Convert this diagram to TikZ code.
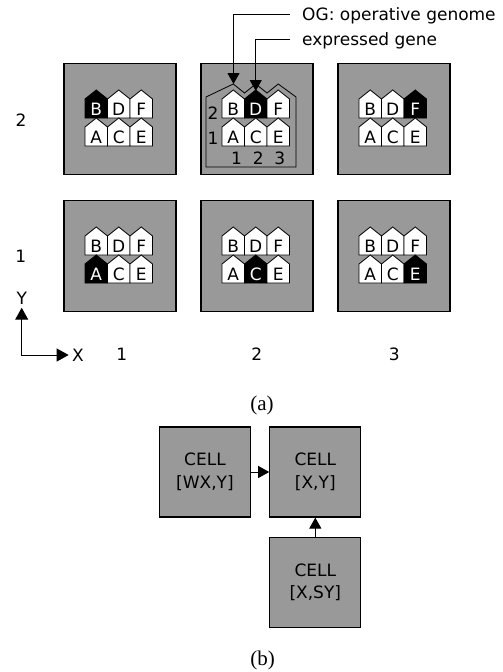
\documentclass[tikz,border=0pt]{standalone}
\usepackage{fontspec}
\setmainfont{DejaVu Sans}
\newfontfamily\capfont{Liberation Serif}
\usetikzlibrary{arrows.meta}
\definecolor{cellgray}{RGB}{153,153,153}

\tikzset{
  cellbox/.style={draw, fill=cellgray, line width=1.2pt, minimum width=112pt, minimum height=111pt, inner sep=0pt},
  callbox/.style={draw, fill=cellgray, line width=1.2pt, minimum width=91pt, minimum height=90pt, align=center},
  gene/.style={draw, fill=white, text=black},
  expr/.style={draw, fill=black, text=white},
  arr/.style={-{Triangle[length=11pt,width=12pt]}, line width=1pt},
  lbl/.style={inner sep=0pt},
  note/.style={anchor=west, inner sep=0pt, text height=12pt, text depth=0pt},
  caption/.style={font=\capfont\fontsize{21}{23}\selectfont},
}

% one gene: left x, bottom y, letter, style, name
\newcommand{\gene}[5]{%
  \draw[#4, line width=0.8pt] (#1,#2) -- ++(22.5,0) -- ++(0,-19) -- ++(-11.25,-9) -- ++(-11.25,9) -- cycle;
  \node[#4, draw=none, fill=none, anchor=base, inner sep=0pt] (#5) at (#1+11.25,#2-2.5) {#3};
}

\begin{document}
\begin{tikzpicture}[x=1pt, y=-1pt, every node/.style={font=\fontsize{17}{22.6}\selectfont}]
  \useasboundingbox (0,0) rectangle (503,672);

  % (a): the grid of cells
  \foreach \col in {1,2,3} {
    \foreach \row in {1,2} {
      \pgfmathsetmacro\cx{120+137*(\col-1)}
      \pgfmathsetmacro\cy{119+137*(2-\row)}
      \node[cellbox] (cell-\col-\row) at (\cx,\cy) {};
    }
  }

  % operative genome outline
  \draw[line width=0.8pt] (206,97) -- (233.25,84) -- (244.5,93) -- (255.75,84) -- (267,93)
    -- (278.25,84) -- (296,97) -- (296,167) -- (206,167) -- cycle;

  % genes, the one at the cell's own position is expressed
  \foreach \col in {1,2,3} {
    \foreach \row in {1,2} {
      \pgfmathsetmacro\cx{120+137*(\col-1)}
      \pgfmathsetmacro\cy{119+137*(2-\row)}
      \foreach \i/\gu/\gl in {1/B/A,2/D/C,3/F/E} {
        \pgfmathsetmacro\hx{\cx-35+22.5*(\i-1)}
        \def\su{gene}\def\sd{gene}
        \ifnum\i=\col\relax \ifnum\row=2 \def\su{expr}\else \def\sd{expr}\fi \fi
        \gene{\hx}{\cy-1}{\gu}{\su}{g-\col-\row-\gu}
        \gene{\hx}{\cy+27}{\gl}{\sd}{g-\col-\row-\gl}
      }
    }
  }

  \node[lbl] (og-2) at (213,113) {2};
  \node[lbl] (og-1) at (213,138) {1};
  \foreach \i in {1,2,3}
    \node[lbl] (og-c\i) at (236.5+21.7*\i-21.7,158) {\i};

  \node[note] (og) at (302,14) {OG: operative genome};
  \node[note] (eg) at (302,39.3) {expressed gene};
  \coordinate (ogtip) at (233.5,84);
  \coordinate (egtip) at (255.75,91);
  \draw[arr, shorten <=12pt] (og.west) -| (ogtip);
  \draw[arr, shorten <=12pt] (eg.west) -| (egtip);

  \node (row-2) at (21,120) {2};
  \node (row-1) at (20.7,256.7) {1};
  \foreach \col/\x in {1/121.7,2/256.7,3/394.3}
    \node (col-\col) at (\x,354) {\col};

  \node (ylab) at (21.7,298) {Y};
  \node (xlab) at (78,355) {X};
  \draw[{Triangle[length=12pt,width=13pt]}-{Triangle[length=12pt,width=13pt]}, line width=1pt]
    (ylab.south) |- (xlab.west);

  \node[caption] (cap-a) at (262,405.8) {(a)};

  % (b): neighbour cells
  \node[callbox] (wxy) at (205,472) {CELL\\{[WX,Y]}};
  \node[callbox] (xy) at (315.3,472) {CELL\\{[X,Y]}};
  \node[callbox] (xsy) at (315.3,582.3) {CELL\\{[X,SY]}};
  \draw[arr] (wxy) -- (xy);
  \draw[arr] (xsy) -- (xy);

  \node[caption] (cap-b) at (262.5,660) {(b)};
\end{tikzpicture}
\end{document}
